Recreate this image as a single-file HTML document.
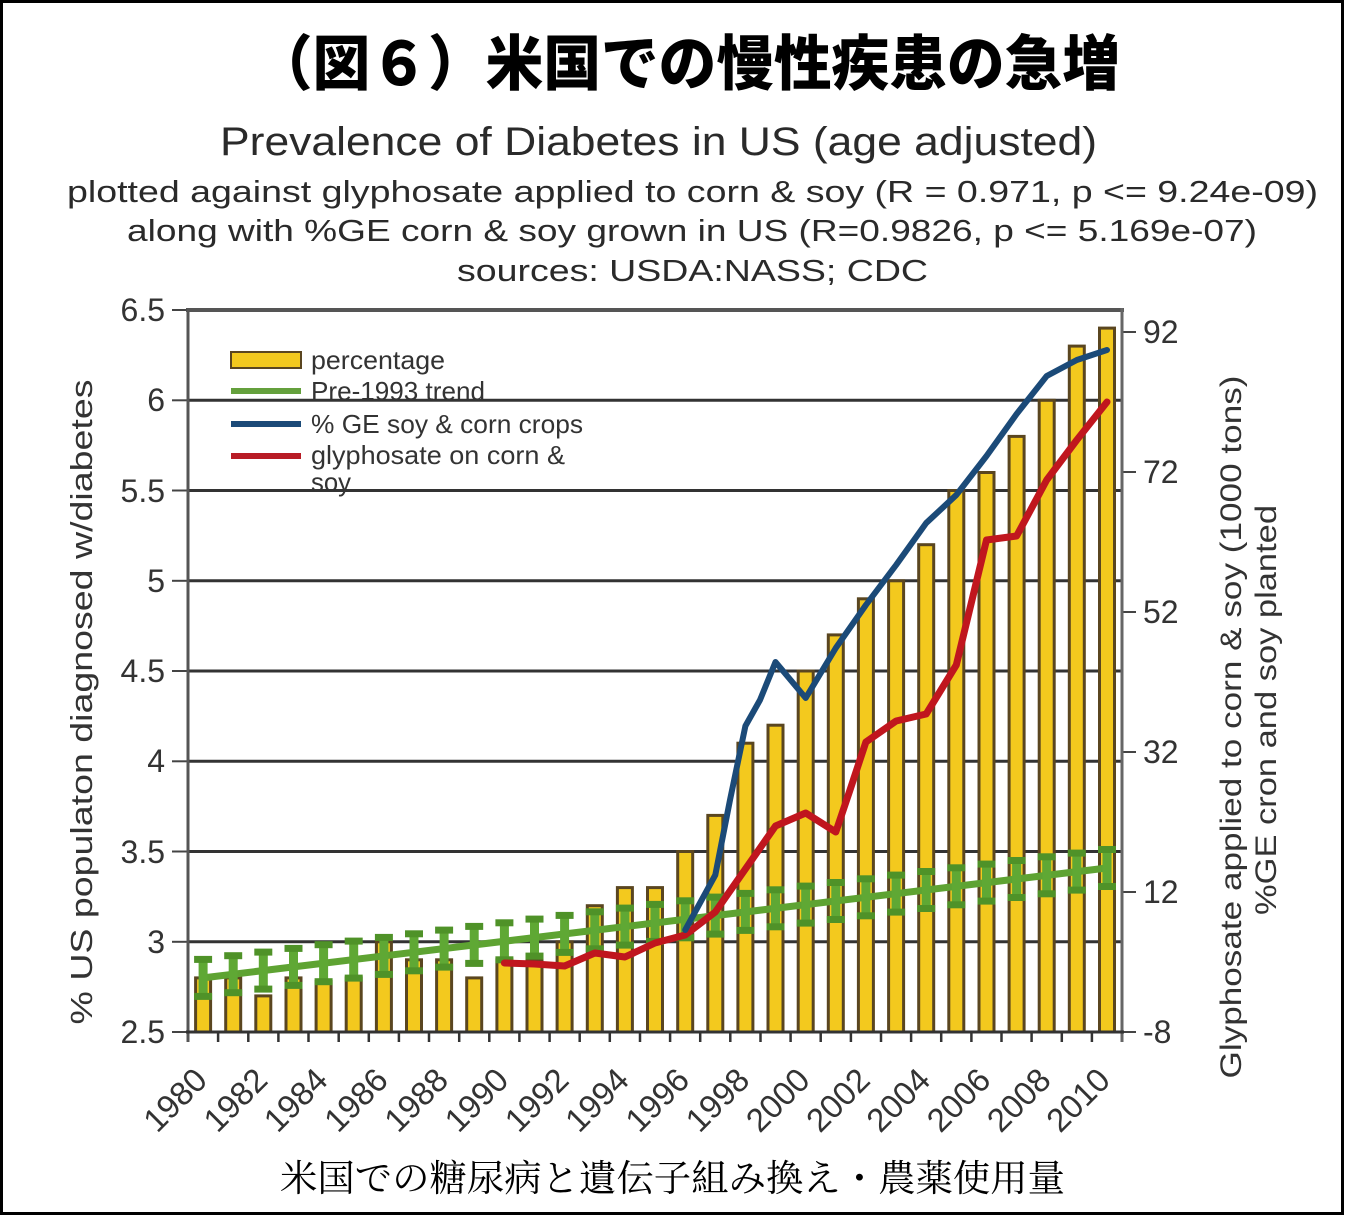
<!DOCTYPE html>
<html>
<head>
<meta charset="utf-8">
<style>
html,body{margin:0;padding:0;background:#fff;}
svg{display:block;}
text{font-family:"Liberation Sans","DejaVu Sans",sans-serif;}
.jp{font-family:"Liberation Sans","Noto Sans CJK JP",sans-serif;}
.mj{font-family:"Liberation Serif","Noto Serif CJK SC",serif;}
</style>
</head>
<body>
<svg width="1345" height="1216" viewBox="0 0 1345 1216" xmlns="http://www.w3.org/2000/svg">
<rect x="0" y="0" width="1345" height="1216" fill="#fff"/>
<rect x="1.5" y="1.5" width="1341" height="1212" fill="none" stroke="#000" stroke-width="3"/>

<!-- Japanese title -->
<text class="jp" x="255" y="85" font-size="60" font-weight="900" fill="#000" textLength="865" lengthAdjust="spacingAndGlyphs">（図６）米国での慢性疾患の急増</text>

<!-- chart titles -->
<text x="220" y="155" font-size="40" fill="#2a2a2a" textLength="877" lengthAdjust="spacingAndGlyphs">Prevalence of Diabetes in US (age adjusted)</text>
<text x="67" y="202" font-size="31" fill="#2a2a2a" textLength="1251" lengthAdjust="spacingAndGlyphs">plotted against glyphosate applied to corn &amp; soy (R = 0.971, p &lt;= 9.24e-09)</text>
<text x="127" y="241" font-size="31" fill="#2a2a2a" textLength="1130" lengthAdjust="spacingAndGlyphs">along with %GE corn &amp; soy grown in US (R=0.9826, p &lt;= 5.169e-07)</text>
<text x="457" y="281" font-size="31" fill="#2a2a2a" textLength="471" lengthAdjust="spacingAndGlyphs">sources: USDA:NASS; CDC</text>

<!-- gridlines -->
<g stroke="#333" stroke-width="3">
<line x1="188" y1="400.3" x2="1122" y2="400.3"/>
<line x1="188" y1="490.5" x2="1122" y2="490.5"/>
<line x1="188" y1="580.8" x2="1122" y2="580.8"/>
<line x1="188" y1="671" x2="1122" y2="671"/>
<line x1="188" y1="761.3" x2="1122" y2="761.3"/>
<line x1="188" y1="851.5" x2="1122" y2="851.5"/>
<line x1="188" y1="941.8" x2="1122" y2="941.8"/>
</g>
<line x1="186" y1="310" x2="1124" y2="310" stroke="#555" stroke-width="4"/>

<!-- left ticks -->
<g stroke="#444" stroke-width="2">
<line x1="172" y1="310" x2="188" y2="310"/>
<line x1="172" y1="400.3" x2="188" y2="400.3"/>
<line x1="172" y1="490.5" x2="188" y2="490.5"/>
<line x1="172" y1="580.8" x2="188" y2="580.8"/>
<line x1="172" y1="671" x2="188" y2="671"/>
<line x1="172" y1="761.3" x2="188" y2="761.3"/>
<line x1="172" y1="851.5" x2="188" y2="851.5"/>
<line x1="172" y1="941.8" x2="188" y2="941.8"/>
<line x1="172" y1="1032" x2="188" y2="1032"/>
</g>
<!-- right ticks -->
<g stroke="#444" stroke-width="2">
<line x1="1122" y1="332" x2="1136" y2="332"/>
<line x1="1122" y1="472" x2="1136" y2="472"/>
<line x1="1122" y1="612" x2="1136" y2="612"/>
<line x1="1122" y1="752" x2="1136" y2="752"/>
<line x1="1122" y1="892" x2="1136" y2="892"/>
<line x1="1122" y1="1032" x2="1136" y2="1032"/>
</g>

<!-- bars -->
<g fill="#f3c91e" stroke="#5a4620" stroke-width="3">
<rect x="195.6" y="977.9" width="15" height="54.1"/>
<rect x="225.7" y="977.9" width="15" height="54.1"/>
<rect x="255.8" y="995.9" width="15" height="36.1"/>
<rect x="286.0" y="977.9" width="15" height="54.1"/>
<rect x="316.1" y="981.5" width="15" height="50.5"/>
<rect x="346.2" y="977.9" width="15" height="54.1"/>
<rect x="376.4" y="941.8" width="15" height="90.2"/>
<rect x="406.5" y="959.8" width="15" height="72.2"/>
<rect x="436.6" y="959.8" width="15" height="72.2"/>
<rect x="466.7" y="977.9" width="15" height="54.1"/>
<rect x="496.9" y="959.8" width="15" height="72.2"/>
<rect x="527.0" y="959.8" width="15" height="72.2"/>
<rect x="557.1" y="941.8" width="15" height="90.2"/>
<rect x="587.3" y="905.7" width="15" height="126.3"/>
<rect x="617.4" y="887.6" width="15" height="144.4"/>
<rect x="647.5" y="887.6" width="15" height="144.4"/>
<rect x="677.7" y="851.5" width="15" height="180.5"/>
<rect x="707.8" y="815.4" width="15" height="216.6"/>
<rect x="737.9" y="743.2" width="15" height="288.8"/>
<rect x="768.0" y="725.2" width="15" height="306.8"/>
<rect x="798.2" y="671" width="15" height="361"/>
<rect x="828.3" y="634.9" width="15" height="397.1"/>
<rect x="858.4" y="598.8" width="15" height="433.2"/>
<rect x="888.6" y="580.8" width="15" height="451.2"/>
<rect x="918.7" y="544.7" width="15" height="487.3"/>
<rect x="948.8" y="490.5" width="15" height="541.5"/>
<rect x="979.0" y="472.5" width="15" height="559.5"/>
<rect x="1009.1" y="436.4" width="15" height="595.6"/>
<rect x="1039.2" y="400.3" width="15" height="631.7"/>
<rect x="1069.3" y="346.1" width="15" height="685.9"/>
<rect x="1099.5" y="328.1" width="15" height="703.9"/>
</g>

<!-- axes -->
<line x1="188" y1="308" x2="188" y2="1042" stroke="#555" stroke-width="3"/>
<line x1="1122" y1="308" x2="1122" y2="1042" stroke="#666" stroke-width="3"/>
<line x1="186" y1="1032" x2="1124" y2="1032" stroke="#333" stroke-width="3"/>
<g stroke="#333" stroke-width="2.5">
<line x1="218.1" y1="1032" x2="218.1" y2="1042"/>
<line x1="248.3" y1="1032" x2="248.3" y2="1042"/>
<line x1="278.4" y1="1032" x2="278.4" y2="1042"/>
<line x1="308.5" y1="1032" x2="308.5" y2="1042"/>
<line x1="338.7" y1="1032" x2="338.7" y2="1042"/>
<line x1="368.8" y1="1032" x2="368.8" y2="1042"/>
<line x1="398.9" y1="1032" x2="398.9" y2="1042"/>
<line x1="429.0" y1="1032" x2="429.0" y2="1042"/>
<line x1="459.2" y1="1032" x2="459.2" y2="1042"/>
<line x1="489.3" y1="1032" x2="489.3" y2="1042"/>
<line x1="519.4" y1="1032" x2="519.4" y2="1042"/>
<line x1="549.6" y1="1032" x2="549.6" y2="1042"/>
<line x1="579.7" y1="1032" x2="579.7" y2="1042"/>
<line x1="609.8" y1="1032" x2="609.8" y2="1042"/>
<line x1="640.0" y1="1032" x2="640.0" y2="1042"/>
<line x1="670.1" y1="1032" x2="670.1" y2="1042"/>
<line x1="700.2" y1="1032" x2="700.2" y2="1042"/>
<line x1="730.3" y1="1032" x2="730.3" y2="1042"/>
<line x1="760.5" y1="1032" x2="760.5" y2="1042"/>
<line x1="790.6" y1="1032" x2="790.6" y2="1042"/>
<line x1="820.7" y1="1032" x2="820.7" y2="1042"/>
<line x1="850.9" y1="1032" x2="850.9" y2="1042"/>
<line x1="881.0" y1="1032" x2="881.0" y2="1042"/>
<line x1="911.1" y1="1032" x2="911.1" y2="1042"/>
<line x1="941.2" y1="1032" x2="941.2" y2="1042"/>
<line x1="971.4" y1="1032" x2="971.4" y2="1042"/>
<line x1="1001.5" y1="1032" x2="1001.5" y2="1042"/>
<line x1="1031.6" y1="1032" x2="1031.6" y2="1042"/>
<line x1="1061.8" y1="1032" x2="1061.8" y2="1042"/>
<line x1="1091.9" y1="1032" x2="1091.9" y2="1042"/>
</g>

<!-- green trend with error bars -->
<defs>
<g id="eb">
<rect x="-4.5" y="-19" width="9" height="38" fill="#5fa834"/>
<rect x="-9" y="-22" width="18" height="7" fill="#4f9228"/>
<rect x="-9" y="15" width="18" height="7" fill="#4f9228"/>
</g>
</defs>
<line x1="203.1" y1="977.9" x2="1107" y2="868" stroke="#5ea332" stroke-width="7"/>
<g>
<use href="#eb" x="203.1" y="977.9"/>
<use href="#eb" x="233.2" y="974.2"/>
<use href="#eb" x="263.3" y="970.6"/>
<use href="#eb" x="293.5" y="966.9"/>
<use href="#eb" x="323.6" y="963.2"/>
<use href="#eb" x="353.7" y="959.6"/>
<use href="#eb" x="383.9" y="955.9"/>
<use href="#eb" x="414.0" y="952.3"/>
<use href="#eb" x="444.1" y="948.6"/>
<use href="#eb" x="474.2" y="944.9"/>
<use href="#eb" x="504.4" y="941.3"/>
<use href="#eb" x="534.5" y="937.6"/>
<use href="#eb" x="564.6" y="933.9"/>
<use href="#eb" x="594.8" y="930.3"/>
<use href="#eb" x="624.9" y="926.6"/>
<use href="#eb" x="655.0" y="922.9"/>
<use href="#eb" x="685.2" y="919.3"/>
<use href="#eb" x="715.3" y="915.6"/>
<use href="#eb" x="745.4" y="911.9"/>
<use href="#eb" x="775.5" y="908.3"/>
<use href="#eb" x="805.7" y="904.6"/>
<use href="#eb" x="835.8" y="901.0"/>
<use href="#eb" x="865.9" y="897.3"/>
<use href="#eb" x="896.1" y="893.6"/>
<use href="#eb" x="926.2" y="890.0"/>
<use href="#eb" x="956.3" y="886.3"/>
<use href="#eb" x="986.5" y="882.6"/>
<use href="#eb" x="1016.6" y="879.0"/>
<use href="#eb" x="1046.7" y="875.3"/>
<use href="#eb" x="1076.8" y="871.6"/>
<use href="#eb" x="1107.0" y="868.0"/>
</g>

<!-- red glyphosate -->
<polyline fill="none" stroke="#c0161e" stroke-width="7" stroke-linejoin="round" stroke-linecap="round"
points="504.4,963 534.5,964 564.6,966 594.8,953 624.9,957 655.0,943 685.2,935 715.3,912 745.4,869 775.5,826 805.7,813 835.8,832 850,790 865.9,742 896.1,721 926.2,714 956.3,665 986.5,540 1016.6,536 1046.7,480 1076.8,440 1107,402"/>

<!-- blue GE -->
<polyline fill="none" stroke="#1b4a78" stroke-width="6" stroke-linejoin="round" stroke-linecap="round"
points="685.2,930 715.3,875 730,800 745.4,726 760,700 775.5,662 805.7,698 835.8,648 865.9,605 896.1,565 926.2,523 956.3,495 986.5,456 1016.6,414 1046.7,376 1076.8,360 1107,350"/>

<!-- legend -->
<rect x="231" y="352" width="70" height="16" fill="#f3c91e" stroke="#5a4620" stroke-width="2"/>
<line x1="231" y1="391" x2="301" y2="391" stroke="#64a03c" stroke-width="6"/>
<line x1="231" y1="424" x2="301" y2="424" stroke="#1b4a78" stroke-width="6"/>
<line x1="231" y1="456" x2="301" y2="456" stroke="#b81c26" stroke-width="6"/>
<g font-size="26" fill="#333">
<text x="311" y="369" textLength="134" lengthAdjust="spacingAndGlyphs">percentage</text>
<text x="311" y="400" textLength="174" lengthAdjust="spacingAndGlyphs">Pre-1993 trend</text>
<text x="311" y="433" textLength="272" lengthAdjust="spacingAndGlyphs">% GE soy &amp; corn crops</text>
<text x="311" y="464" textLength="254" lengthAdjust="spacingAndGlyphs">glyphosate on corn &amp;</text>
<text x="311" y="491" textLength="40" lengthAdjust="spacingAndGlyphs">soy</text>
</g>

<!-- left tick labels -->
<g font-size="32" fill="#333" text-anchor="end">
<text x="165" y="321">6.5</text>
<text x="165" y="411">6</text>
<text x="165" y="502">5.5</text>
<text x="165" y="592">5</text>
<text x="165" y="682">4.5</text>
<text x="165" y="772">4</text>
<text x="165" y="863">3.5</text>
<text x="165" y="953">3</text>
<text x="165" y="1043">2.5</text>
</g>
<!-- right tick labels -->
<g font-size="32" fill="#333">
<text x="1143" y="343">92</text>
<text x="1143" y="483">72</text>
<text x="1143" y="623">52</text>
<text x="1143" y="763">32</text>
<text x="1143" y="903">12</text>
<text x="1143" y="1043">-8</text>
</g>

<!-- axis titles -->
<text transform="translate(92,702) rotate(-90)" font-size="31" fill="#333" text-anchor="middle" textLength="645" lengthAdjust="spacingAndGlyphs">% US populaton diagnosed w/diabetes</text>
<text transform="translate(1241,727) rotate(-90)" font-size="30" fill="#333" text-anchor="middle" textLength="703" lengthAdjust="spacingAndGlyphs">Glyphosate applied to corn &amp; soy (1000 tons)</text>
<text transform="translate(1276,710) rotate(-90)" font-size="30" fill="#333" text-anchor="middle" textLength="410" lengthAdjust="spacingAndGlyphs">%GE cron and soy planted</text>

<!-- x labels -->
<g font-size="33" fill="#333" text-anchor="end">
<text transform="translate(209,1082) rotate(-45)">1980</text>
<text transform="translate(269.3,1082) rotate(-45)">1982</text>
<text transform="translate(329.6,1082) rotate(-45)">1984</text>
<text transform="translate(389.9,1082) rotate(-45)">1986</text>
<text transform="translate(450.1,1082) rotate(-45)">1988</text>
<text transform="translate(510.4,1082) rotate(-45)">1990</text>
<text transform="translate(570.6,1082) rotate(-45)">1992</text>
<text transform="translate(630.9,1082) rotate(-45)">1994</text>
<text transform="translate(691.2,1082) rotate(-45)">1996</text>
<text transform="translate(751.4,1082) rotate(-45)">1998</text>
<text transform="translate(811.7,1082) rotate(-45)">2000</text>
<text transform="translate(871.9,1082) rotate(-45)">2002</text>
<text transform="translate(932.2,1082) rotate(-45)">2004</text>
<text transform="translate(992.5,1082) rotate(-45)">2006</text>
<text transform="translate(1052.7,1082) rotate(-45)">2008</text>
<text transform="translate(1112,1082) rotate(-45)">2010</text>
</g>

<!-- caption -->
<text class="mj" x="280" y="1191" font-size="37" fill="#000" textLength="785" lengthAdjust="spacingAndGlyphs">米国での糖尿病と遺伝子組み換え・農薬使用量</text>
</svg>
</body>
</html>
